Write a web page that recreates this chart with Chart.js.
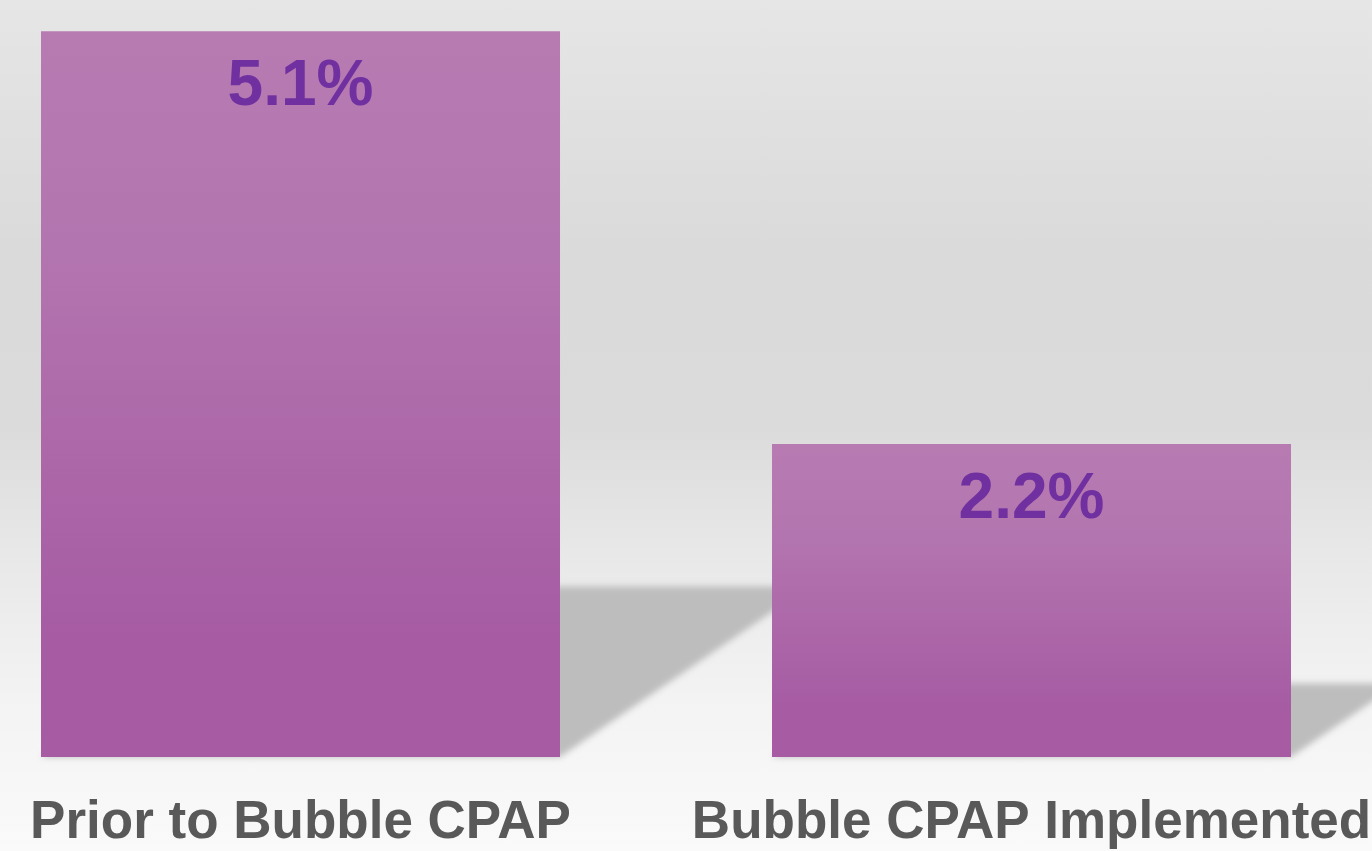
<!DOCTYPE html>
<html>
<head>
<meta charset="utf-8">
<script src="https://cdn.jsdelivr.net/npm/chart.js@4/dist/chart.umd.min.js"></script>
<style>
  html, body { margin: 0; padding: 0; }
  body {
    width: 1372px; height: 851px; overflow: hidden; position: relative;
    background: linear-gradient(to bottom, #e6e6e6 0%, #dadada 30%, #dbdbdb 50%, #e8e8e8 65%, #f3f3f3 82%, #fafafa 100%);
  }
  #wrap { position: absolute; left: -65px; top: 0; width: 1462px; height: 851px; }
</style>
</head>
<body>
<div id="wrap"><canvas id="c"></canvas></div>
<script>
const categories = ['Prior to Bubble CPAP', 'Bubble CPAP Implemented'];
const values = [5.1, 2.2];
const yMax = 5.32;

const barTop = '#b77bb2';
const barBottom = '#a65ba3';
const labelColor = '#7030a0';
const tickColor = '#595959';
const shadowColor = '#bdbdbd';

function barGradient(c) {
  const chart = c.chart;
  const { ctx, chartArea, scales } = chart;
  if (!chartArea || !scales.y) return barBottom;
  const top = scales.y.getPixelForValue(c.raw);
  const bottom = scales.y.getPixelForValue(0);
  const g = ctx.createLinearGradient(0, top, 0, bottom);
  g.addColorStop(0, barTop);
  g.addColorStop(0.3, '#b375af');
  g.addColorStop(0.85, barBottom);
  g.addColorStop(1, barBottom);
  return g;
}

const shadowPlugin = {
  id: 'floorShadow',
  beforeDatasetsDraw(chart) {
    const ctx = chart.ctx;
    const meta = chart.getDatasetMeta(0);
    ctx.save();
    ctx.filter = 'blur(3px)';
    ctx.fillStyle = shadowColor;
    meta.data.forEach(bar => {
      const p = bar.getProps(['x', 'y', 'base', 'width'], true);
      const h = (p.base - p.y) * 0.235;
      const dx = h * 1.46;
      const left = p.x - p.width / 2;
      const right = p.x + p.width / 2;
      ctx.beginPath();
      ctx.moveTo(left, p.base);
      ctx.lineTo(right, p.base);
      ctx.lineTo(right + dx, p.base - h);
      ctx.lineTo(left + dx, p.base - h);
      ctx.closePath();
      ctx.fill();
    });
    ctx.restore();
  }
};

const valueLabelPlugin = {
  id: 'valueLabels',
  afterDatasetsDraw(chart) {
    const ctx = chart.ctx;
    const meta = chart.getDatasetMeta(0);
    ctx.save();
    ctx.font = 'bold 64px "Liberation Sans", Arial, sans-serif';
    ctx.fillStyle = labelColor;
    ctx.textAlign = 'center';
    ctx.textBaseline = 'alphabetic';
    meta.data.forEach((bar, i) => {
      const p = bar.getProps(['x', 'y'], true);
      ctx.fillText(values[i].toFixed(1) + '%', p.x, p.y + 74);
    });
    ctx.restore();
  }
};

new Chart(document.getElementById('c'), {
  type: 'bar',
  data: {
    labels: categories,
    datasets: [{
      data: values,
      backgroundColor: barGradient,
      borderWidth: 0,
      barPercentage: 0.71,
      categoryPercentage: 1.0
    }]
  },
  options: {
    responsive: true,
    maintainAspectRatio: false,
    animation: false,
    layout: { padding: 0 },
    plugins: { legend: { display: false }, tooltip: { enabled: false } },
    scales: {
      x: {
        grid: { display: false },
        border: { display: false },
        ticks: {
          color: tickColor,
          font: { family: '"Liberation Sans", Arial, sans-serif', size: 53, weight: 'bold' },
          padding: 27,
          maxRotation: 0,
          autoSkip: false
        },
        afterFit(scale) {
          scale.height = 94;
          scale.paddingLeft = 0;
          scale.paddingRight = 0;
        }
      },
      y: {
        display: false,
        min: 0,
        max: yMax
      }
    }
  },
  plugins: [shadowPlugin, valueLabelPlugin]
});
</script>
</body>
</html>
